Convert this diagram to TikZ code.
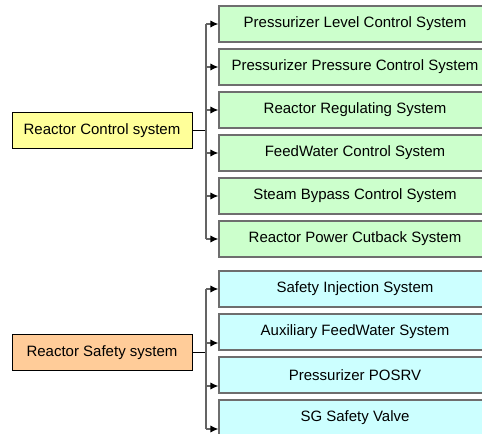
\documentclass[tikz,border=0pt]{standalone}
\usepackage{fontspec}
\setmainfont{Liberation Sans}
\usepackage{tikz}
\usetikzlibrary{arrows.meta}

\begin{document}
\begin{tikzpicture}[x=0.75pt,y=0.75pt,yscale=-1,xscale=1,
    mainbox/.style={draw=black,line width=0.75pt,minimum width=135pt,minimum height=27pt,inner sep=0pt,font=\fontsize{11.25}{13}\selectfont},
    subbox/.style={draw={rgb, 255:red, 110; green, 110; blue, 110 },line width=0.9pt,minimum width=204pt,minimum height=27pt,inner sep=0pt,font=\fontsize{11.25}{13}\selectfont},
    bus/.style={draw={rgb, 255:red, 100; green, 100; blue, 100 },line width=1pt},
    feed/.style={bus,-{Latex[black,length=6pt,width=5.5pt]}}]
        %set diagram frame, 482 x 434
        \useasboundingbox (0,0) rectangle (482,434);
        \clip (0,0) rectangle (482,434);

        % Main Nodes
        \node [mainbox,fill={rgb, 255:red, 255; green, 255; blue, 153 }] (ctrl) at (102,131) {Reactor Control system};
        \node [mainbox,fill={rgb, 255:red, 255; green, 204; blue, 153 }] (safe) at (102,353) {Reactor Safety system};

        % Control Subsystems
        \node [subbox,fill={rgb, 255:red, 204; green, 255; blue, 204 }] (plcs) at (355,24) {Pressurizer Level Control System};
        \node [subbox,fill={rgb, 255:red, 204; green, 255; blue, 204 }] (ppcs) at (355,67) {Pressurizer Pressure Control System};
        \node [subbox,fill={rgb, 255:red, 204; green, 255; blue, 204 }] (rrs) at (355,110) {Reactor Regulating System};
        \node [subbox,fill={rgb, 255:red, 204; green, 255; blue, 204 }] (fwcs) at (355,153) {FeedWater Control System};
        \node [subbox,fill={rgb, 255:red, 204; green, 255; blue, 204 }] (sbcs) at (355,196) {Steam Bypass Control System};
        \node [subbox,fill={rgb, 255:red, 204; green, 255; blue, 204 }] (rpcs) at (355,239) {Reactor Power Cutback System};

        % Safety Subsystems
        \node [subbox,fill={rgb, 255:red, 204; green, 255; blue, 255 }] (sis) at (355,289) {Safety Injection System};
        \node [subbox,fill={rgb, 255:red, 204; green, 255; blue, 255 }] (afws) at (355,332) {Auxiliary FeedWater System};
        \node [subbox,fill={rgb, 255:red, 204; green, 255; blue, 255 }] (posrv) at (355,375) {Pressurizer POSRV};
        \node [subbox,fill={rgb, 255:red, 204; green, 255; blue, 255 }] (sgsv) at (355,418) {SG Safety Valve};

        % Control bus
        \coordinate (cbus) at (206,131);
        \draw [line width=0.75pt] (ctrl.east) -- (cbus);
        \draw [bus] (cbus |- plcs.west) -- (cbus |- rpcs.west);
        \draw [feed] (cbus |- plcs.west) -- (plcs.west);
        \draw [feed] (cbus |- ppcs.west) -- (ppcs.west);
        \draw [feed] (cbus |- rrs.west) -- (rrs.west);
        \draw [feed] (cbus |- fwcs.west) -- (fwcs.west);
        \draw [feed] (cbus |- sbcs.west) -- (sbcs.west);
        \draw [feed] (cbus |- rpcs.west) -- (rpcs.west);

        % Safety bus (lower three enter below centre)
        \coordinate (sbus) at (206,353);
        \coordinate (afwsin) at ([yshift=8.25pt]afws.west);
        \coordinate (posrvin) at ([yshift=8.25pt]posrv.west);
        \coordinate (sgsvin) at ([yshift=8.25pt]sgsv.west);
        \draw [line width=0.75pt] (safe.east) -- (sbus);
        \draw [bus] (sbus |- sis.west) -- (sbus |- sgsvin);
        \draw [feed] (sbus |- sis.west) -- (sis.west);
        \draw [feed] (sbus |- afwsin) -- (afwsin);
        \draw [feed] (sbus |- posrvin) -- (posrvin);
        \draw [feed] (sbus |- sgsvin) -- (sgsvin);

\end{tikzpicture}
\end{document}
